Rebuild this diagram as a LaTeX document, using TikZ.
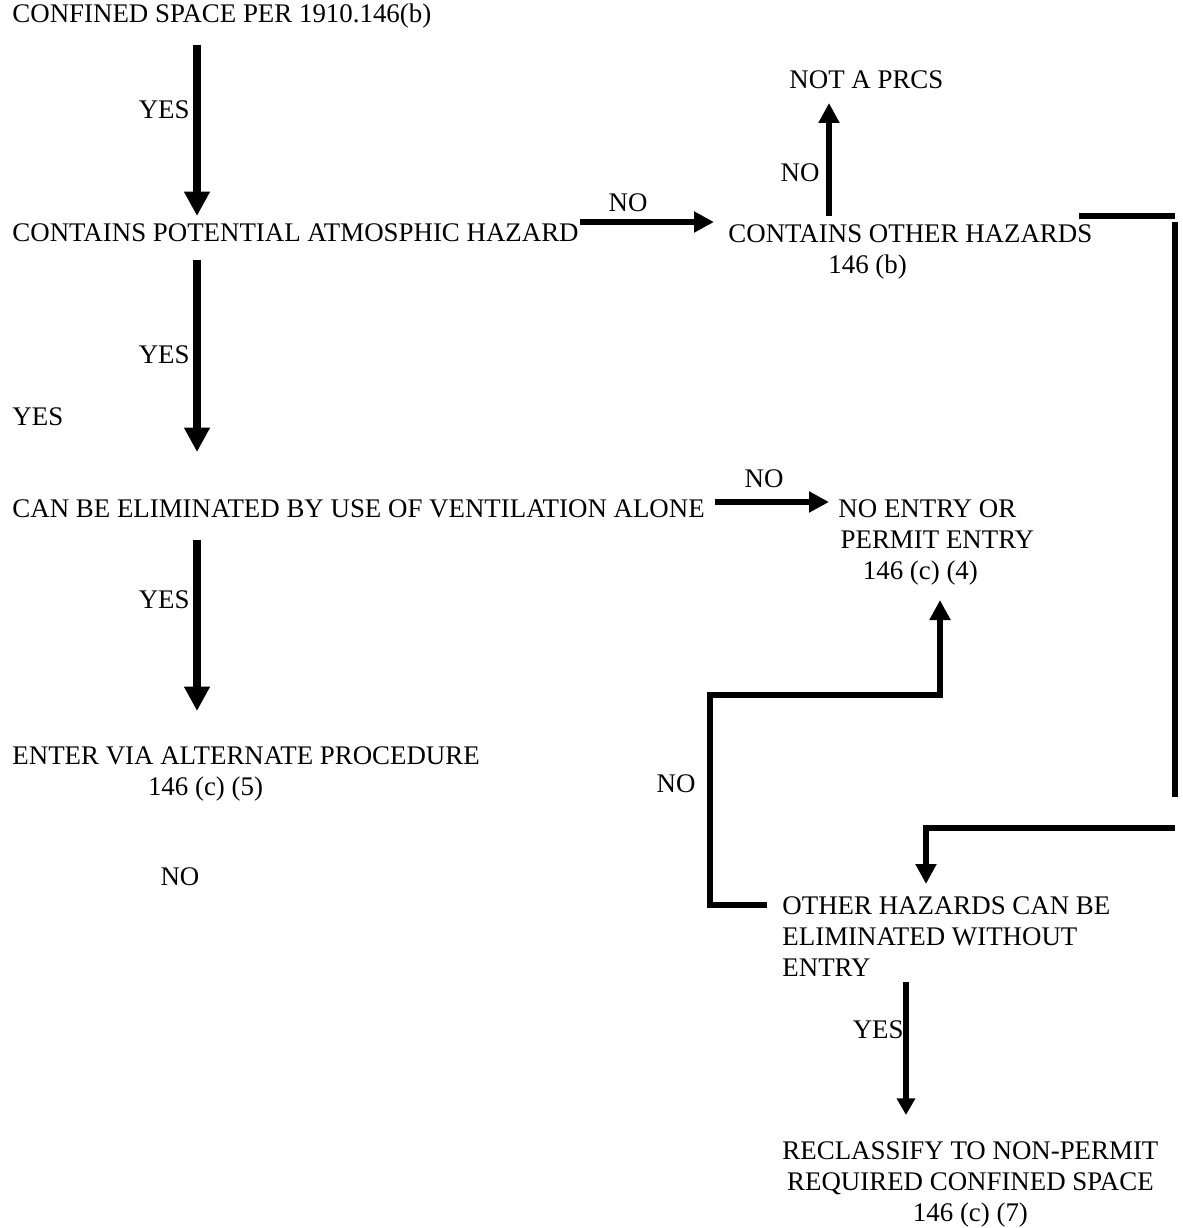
\documentclass[tikz,border=0pt]{standalone}
\usepackage{fontspec}
\setmainfont{Liberation Serif}
\usetikzlibrary{arrows.meta}

\begin{document}
\begin{tikzpicture}[
  x=0.45pt, y=-0.45pt,
  txt/.style={inner sep=0pt, font=\fontsize{12.1}{14}\selectfont, align=left},
  lbl/.style={inner sep=0pt, font=\fontsize{12.1}{14}\selectfont},
  e/.style={-{Triangle[length=9pt, width=9pt]}, line width=3pt, line join=miter},
  be/.style={-{Triangle[length=11pt, width=11pt]}, line width=3.3pt},
  thin/.style={-{Triangle[length=7.5pt, width=8pt]}, line width=2.6pt},
  ln/.style={line width=3pt}]
  \useasboundingbox (0,0) rectangle (1182,1228);
  % steps
  \node[txt, anchor=base west](space) at (12,23){CONFINED SPACE PER 1910.146(b)};
  \node[txt, anchor=base west](atmo) at (12,242){CONTAINS POTENTIAL ATMOSPHIC HAZARD};
  \node[txt, anchor=north west](other) at (728,224){CONTAINS OTHER HAZARDS\\\hspace*{45pt}146 (b)};
  \node[txt, anchor=base west](notprcs) at (789,89){NOT A PRCS};
  \node[txt, anchor=base west](vent) at (12,517){CAN BE ELIMINATED BY USE OF VENTILATION ALONE};
  \node[txt, anchor=north west](noentry) at (838,499){NO ENTRY OR\\\hspace*{1pt}PERMIT ENTRY\\\hspace*{11pt}146 (c) (4)};
  \node[txt, anchor=north west](altproc) at (12,746){ENTER VIA ALTERNATE PROCEDURE\\\hspace*{61pt}146 (c) (5)};
  \node[txt, anchor=north west](elim) at (782,896){OTHER HAZARDS CAN BE\\ELIMINATED WITHOUT\\ENTRY};
  \node[txt, anchor=north west, align=center](reclass) at (782,1141){RECLASSIFY TO NON-PERMIT\\REQUIRED CONFINED SPACE\\146 (c) (7)};
  % answers
  \node[lbl, anchor=east](yes1) at (190,110){YES};
  \node[lbl, anchor=east](yes2) at (190,355){YES};
  \node[lbl, anchor=west](yes3) at (12,417){YES};
  \node[lbl, anchor=east](yes4) at (190,600){YES};
  \node[lbl, anchor=east](yes5) at (904,1030){YES};
  \node[lbl](no1) at (628,203){NO};
  \node[lbl](no2) at (800,173){NO};
  \node[lbl](no3) at (764,479){NO};
  \node[lbl](no4) at (676,784){NO};
  \node[lbl](no5) at (180,877){NO};
  % arrow ends
  \coordinate (a1) at (197,45);   \coordinate (a1t) at (197,216);
  \coordinate (a2) at (197,260);  \coordinate (a2t) at (197,452);
  \coordinate (a3) at (197,540);  \coordinate (a3t) at (197,711);
  \coordinate (n1) at (580,222);  \coordinate (n1t) at (714,222);
  \coordinate (n2) at (829,216);  \coordinate (n2t) at (829,103);
  \coordinate (n3) at (715,502);  \coordinate (n3t) at (829,502);
  \coordinate (r1) at (1079,216); \coordinate (r2) at (1175,216);
  \coordinate (r3) at (1175,222); \coordinate (r4) at (1175,797);
  \coordinate (r5) at (1175,828); \coordinate (r6) at (926,828);
  \coordinate (r7) at (926,884);
  \coordinate (l1) at (767,905);  \coordinate (l2) at (710,905);
  \coordinate (l3) at (710,695);  \coordinate (l4) at (940,695);
  \coordinate (l5) at (940,600);
  \coordinate (y5) at (906,982);  \coordinate (y5t) at (906,1115);
  % connectors
  \draw[be](a1)--(a1t);
  \draw[be](a2)--(a2t);
  \draw[be](a3)--(a3t);
  \draw[e](n1)--(n1t);
  \draw[e](n2)--(n2t);
  \draw[e](n3)--(n3t);
  \draw[ln](r1)--(r2); \draw[ln](r3)--(r4);
  \draw[e](r5)--(r6)--(r7);
  \draw[e](l1)--(l2)--(l3)--(l4)--(l5);
  \draw[thin](y5)--(y5t);
\end{tikzpicture}
\end{document}
